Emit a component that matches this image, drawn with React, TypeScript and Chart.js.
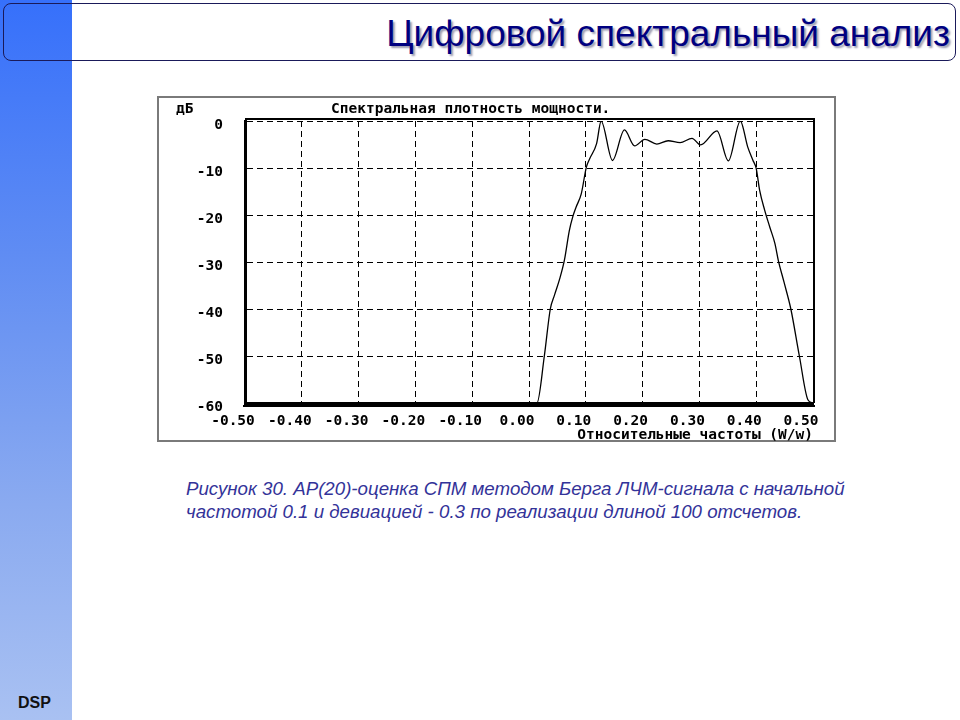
import React, { useEffect, useRef } from "react";
import { Chart, registerables } from "chart.js";

Chart.register(...registerables);

// ---- data ----
const freq: number[] = [
  -0.5, 0.0, 0.014, 0.027, 0.0375, 0.045, 0.054, 0.0625, 0.071, 0.077, 0.083, 0.092,
  0.101, 0.107, 0.119, 0.127, 0.147, 0.168, 0.186, 0.204, 0.225, 0.245, 0.266,
  0.287, 0.302, 0.331, 0.351, 0.372, 0.385, 0.394, 0.4, 0.406, 0.415, 0.424,
  0.433, 0.439, 0.449, 0.461, 0.476, 0.491, 0.5,
];
const psdDb: number[] = [
  -60, -60, -60, -50, -40, -37, -33.6, -29.5, -23.3, -20.4, -18.3, -15.5,
  -9.8, -8, -4.8, 0, -8.4, -1.9, -5.3, -3.9, -4.9, -4.2, -4.6,
  -3.7, -5.1, -2.1, -8.5, 0, -5.5, -8.3, -10.1, -14.7, -19, -22.6,
  -26.1, -29.7, -34.3, -40, -50, -59.3, -60,
];
const xTickLabels: string[] = [
  "-0.50", "-0.40", "-0.30", "-0.20", "-0.10", "0.00", "0.10", "0.20", "0.30", "0.40", "0.50",
];
const yTickLabels: string[] = ["-60", "-50", "-40", "-30", "-20", "-10", "0"];

const chartTitle = "Спектральная плотность мощности.";
const yUnit = "дБ";
const xTitle = "Относительные частоты (W/w)";
const slideTitle = "Цифровой спектральный анализ";
const captionLine1 = "Рисунок 30. АР(20)-оценка СПМ методом Берга ЛЧМ-сигнала с начальной";
const captionLine2 = "частотой 0.1 и девиацией - 0.3 по реализации длиной 100 отсчетов.";

const MONO = "'DejaVu Sans Mono', monospace";

const CANVAS_W = 679;
const CANVAS_H = 346;

export default function App() {
  const ref = useRef<HTMLCanvasElement | null>(null);

  useEffect(() => {
    const canvas = ref.current;
    if (!canvas) return;
    const textPlugin = {
      id: "extraTexts",
      afterDraw(chart: any) {
        const { ctx, chartArea } = chart;
        ctx.save();
        // solid frame around the plot
        ctx.strokeStyle = "#000";
        ctx.lineWidth = 2;
        ctx.setLineDash([]);
        ctx.beginPath();
        ctx.moveTo(chartArea.left, chartArea.top - 2);
        ctx.lineTo(chartArea.right + 1, chartArea.top - 2);
        ctx.lineTo(chartArea.right + 1, chartArea.bottom);
        ctx.stroke();
        ctx.beginPath();
        ctx.moveTo(chartArea.left - 2, chartArea.bottom + 3);
        ctx.lineTo(chartArea.right + 2, chartArea.bottom + 3);
        ctx.stroke();
        ctx.fillStyle = "#000";
        ctx.font = `bold 14.5px ${MONO}`;
        ctx.textBaseline = "middle";
        ctx.textAlign = "left";
        ctx.fillText(yUnit, 19, 13.5);
        ctx.fillText(chartTitle, 174, 13.5);
        ctx.textAlign = "right";
        ctx.fillText(xTitle, chartArea.right, 339);
        ctx.restore();
      },
    };

    const chart = new Chart(canvas, {
      type: "line",
      data: {
        datasets: [
          {
            data: freq.map((f, i) => ({ x: f, y: psdDb[i] })),
            borderColor: "#000",
            borderWidth: 1.3,
            pointRadius: 0,
            cubicInterpolationMode: "monotone",
            fill: false,
          },
        ],
      },
      options: {
        responsive: false,
        animation: false,
        devicePixelRatio: 1,
        layout: { padding: { left: 0, top: 25, right: 23, bottom: 0 } },
        plugins: {
          legend: { display: false },
          tooltip: { enabled: false },
          title: { display: false },
        },
        scales: {
          x: {
            type: "linear",
            min: -0.5,
            max: 0.5,
            afterFit: (s: any) => {
              s.height = 39;
              s.paddingLeft = 0;
              s.paddingRight = 0;
            },
            afterBuildTicks: (s: any) => {
              s.ticks = xTickLabels.map((l) => ({ value: parseFloat(l) }));
            },
            ticks: {
              autoSkip: false,
              maxRotation: 0,
              padding: 10,
              labelOffset: -12,
              color: "#000",
              font: { family: MONO, size: 14.5, weight: "bold" },
              callback: (_v: any, i: number) => xTickLabels[i],
            },
            grid: {
              color: "#000",
              lineWidth: 1,
              drawTicks: false,
              tickLength: 0,
            },
            border: { display: true, color: "#000", width: 3, dash: [6, 4] },
          },
          y: {
            type: "linear",
            min: -60,
            max: 0,
            afterFit: (s: any) => {
              s.width = 88;
              s.paddingTop = 0;
              s.paddingBottom = 0;
            },
            afterBuildTicks: (s: any) => {
              s.ticks = yTickLabels.map((l) => ({ value: parseFloat(l) }));
            },
            ticks: {
              autoSkip: false,
              padding: 22,
              labelOffset: 4,
              color: "#000",
              font: { family: MONO, size: 14.5, weight: "bold" },
              callback: (_v: any, i: number) => yTickLabels[i],
            },
            grid: {
              color: "#000",
              lineWidth: 1,
              drawTicks: false,
              tickLength: 0,
            },
            border: { display: true, color: "#000", width: 3, dash: [6, 4] },
          },
        },
      },
      plugins: [textPlugin],
    } as any);

    return () => chart.destroy();
  }, []);

  return (
    <div
      style={{
        position: "fixed",
        left: 0,
        top: 0,
        width: 960,
        height: 720,
        background: "#fff",
        overflow: "hidden",
        fontFamily: "'Liberation Sans', Arial, sans-serif",
      }}
    >
      <div
        style={{
          position: "absolute",
          left: 0,
          top: 0,
          width: 72,
          height: 720,
          background: "linear-gradient(180deg, #3670fb 0%, #5f8cf3 35%, #8aaaf0 70%, #a9c1f2 100%)",
        }}
      />
      <div
        style={{
          position: "absolute",
          left: 3,
          top: 3,
          width: 951,
          height: 56,
          border: "1px solid #1a1a5a",
          borderRadius: 8,
          boxSizing: "content-box",
        }}
      />
      <div
        style={{
          position: "absolute",
          right: 10,
          top: 10,
          fontSize: 37,
          lineHeight: "48px",
          color: "#000080",
          textShadow: "2px 2px 2px #9a9ab0",
          whiteSpace: "nowrap",
        }}
      >
        {slideTitle}
      </div>
      <div
        style={{
          position: "absolute",
          left: 157,
          top: 96,
          width: CANVAS_W - 4,
          height: CANVAS_H - 4,
          border: "2px solid #7a7a7a",
          boxSizing: "content-box",
        }}
      />
      <canvas
        ref={ref}
        width={CANVAS_W}
        height={CANVAS_H}
        style={{ position: "absolute", left: 157, top: 96, width: CANVAS_W, height: CANVAS_H }}
      />
      <div
        style={{
          position: "absolute",
          left: 186,
          top: 477,
          fontSize: 18.7,
          lineHeight: "23px",
          fontStyle: "italic",
          color: "#333399",
          whiteSpace: "nowrap",
        }}
      >
        <div>{captionLine1}</div>
        <div>{captionLine2}</div>
      </div>
      <div
        style={{
          position: "absolute",
          left: 18,
          top: 694,
          fontSize: 16,
          fontWeight: "bold",
          color: "#111",
        }}
      >
        DSP
      </div>
    </div>
  );
}
